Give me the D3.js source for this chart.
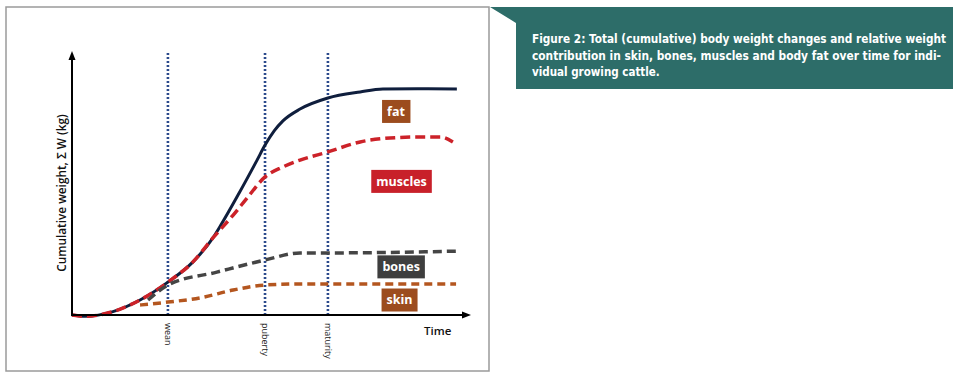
<!DOCTYPE html>
<html>
<head>
<meta charset="utf-8">
<script src="https://cdn.jsdelivr.net/npm/d3@7"></script>
<style>
  body { margin: 0; background: #fff; }
  svg { display: block; }
</style>
</head>
<body>
<div id="chart-area"></div>
<script>
// time (0..100) and cumulative weight (0..100)
const totalT   = [0, 3.3, 10.3, 17.1, 24.1, 30.4, 35.4, 37.4, 42.0, 46.5, 48.5, 50.8, 53.0, 57.3, 64.3, 72.4, 78.1, 86.7, 96.7]
const totalW   = [0, -0.5, 1.3, 5.7, 12.5, 20.2, 29.3, 34.2, 46.4, 58.9, 64.6, 70.0, 73.8, 78.3, 82.5, 84.8, 85.9, 86.0, 85.9]

const musclesT = [0, 3.3, 10.3, 17.1, 24.1, 30.4, 35.4, 40.5, 44.0, 48.5, 53.0, 57.3, 64.3, 72.4, 79.9, 87.4, 92.5, 95.7]
const musclesW = [0, -0.5, 1.3, 5.7, 12.5, 20.2, 29.3, 38.0, 44.5, 52.5, 56.3, 58.9, 62.0, 65.8, 67.3, 67.7, 67.7, 65.8]

const bonesT   = [19.1, 24.1, 36.4, 48.5, 57.3, 64.3, 97.2]
const bonesW   = [5.7, 11.4, 16.3, 20.9, 23.6, 23.6, 24.3]

const skinT    = [17.1, 24.1, 32.2, 40.5, 48.5, 57.3, 96.5]
const skinW    = [3.8, 4.9, 6.5, 9.5, 11.4, 11.8, 11.8]

const events     = ["wean", "puberty", "maturity"]
const eventTimes = [24.1, 48.5, 64.3]

const labelNames = ["fat", "muscles", "bones", "skin"]
const labelT     = [81.4, 82.8, 82.7, 82.3]
const labelW     = [77.4, 50.8, 18.3, 5.7]

const caption = [
  "Figure 2: Total (cumulative) body weight changes and relative weight",
  "contribution in skin, bones, muscles and body fat over time for indi-",
  "vidual growing cattle."
]

const W = 960, H = 379

const svg = d3.select("#chart-area")
  .append("svg")
    .attr("width", W)
    .attr("height", H)

// outer frame of the figure
svg.append("rect")
  .attr("x", 6).attr("y", 7)
  .attr("width", 483).attr("height", 364)
  .attr("fill", "none")
  .attr("stroke", "#9a9a9a")
  .attr("stroke-width", 1.5)

// scales
const x = d3.scaleLinear().domain([0, 100]).range([72, 470])
const y = d3.scaleLinear().domain([0, 100]).range([315, 52])

// event markers (dotted verticals)
events.forEach((ev, i) => {
  svg.append("line")
    .attr("x1", x(eventTimes[i])).attr("x2", x(eventTimes[i]))
    .attr("y1", y(0)).attr("y2", 53)
    .attr("stroke", "#2b4a8c")
    .attr("stroke-width", 2.6)
    .attr("stroke-dasharray", "2,2")

  svg.append("text")
    .attr("transform", `translate(${x(eventTimes[i]) - 3},${y(0) + 8}) rotate(90)`)
    .attr("font-family", "Open Sans")
    .attr("font-size", 9)
    .attr("fill", "#222")
    .text(ev)
})

// curves
const line = d3.line()
  .x(d => x(d[0]))
  .y(d => y(d[1]))
  .curve(d3.curveMonotoneX)

const series = [
  {t: totalT, w: totalW, color: "#0f1e3d", dash: null, sw: 3},
  {t: musclesT, w: musclesW, color: "#cc2229", dash: "10,5", sw: 3.5},
  {t: bonesT, w: bonesW, color: "#454545", dash: "9,5", sw: 3.5},
  {t: skinT, w: skinW, color: "#b4561f", dash: "8,5", sw: 3.5}
]

series.forEach(s => {
  svg.append("path")
    .datum(s.t.map((t, i) => [t, s.w[i]]))
    .attr("d", line)
    .attr("fill", "none")
    .attr("stroke", s.color)
    .attr("stroke-width", s.sw)
    .attr("stroke-dasharray", s.dash)
})

// axes with arrows
svg.append("line")
  .attr("x1", x(0)).attr("x2", x(0))
  .attr("y1", y(0) + 1).attr("y2", 58)
  .attr("stroke", "#000").attr("stroke-width", 2)
svg.append("path")
  .attr("d", `M${x(0) - 3.5},60 L${x(0)},51 L${x(0) + 3.5},60 Z`)
  .attr("fill", "#000")

svg.append("line")
  .attr("x1", x(0) - 1).attr("x2", 464)
  .attr("y1", y(0)).attr("y2", y(0))
  .attr("stroke", "#000").attr("stroke-width", 2)
svg.append("path")
  .attr("d", `M462,${y(0) - 3.5} L471,${y(0)} L462,${y(0) + 3.5} Z`)
  .attr("fill", "#000")

svg.append("text")
  .attr("x", 424).attr("y", 335)
  .attr("font-family", "Open Sans")
  .attr("font-weight", 600)
  .attr("font-size", 11.5)
  .attr("fill", "#111")
  .text("Time")

svg.append("text")
  .attr("transform", `translate(66,193) rotate(-90)`)
  .attr("text-anchor", "middle")
  .attr("font-family", "Open Sans")
  .attr("font-weight", 600)
  .attr("font-size", 11.8)
  .attr("fill", "#111")
  .text("Cumulative weight, \u03A3 W (kg)")

// component labels
const labelColours = d3.scaleOrdinal()
  .domain(labelNames)
  .range(["#9c4c1e", "#c8202a", "#3e3e3e", "#9c4c1e"])

labelNames.forEach((name, i) => {
  const g = svg.append("g")
    .attr("transform", `translate(${x(labelT[i])},${y(labelW[i])})`)
  const txt = g.append("text")
    .attr("text-anchor", "middle")
    .attr("dy", "0.35em")
    .attr("font-family", "Open Sans")
    .attr("font-weight", 700)
    .attr("font-size", 12.5)
    .attr("fill", "#fff")
    .text(name)
  const bb = txt.node().getBBox()
  g.insert("rect", "text")
    .attr("x", bb.x - 5).attr("y", -11.5)
    .attr("width", bb.width + 10).attr("height", 23)
    .attr("fill", labelColours(name))
})

// caption box
svg.append("path")
  .attr("d", "M490,7 L953,7 L953,89 L516,89 L516,23 Z")
  .attr("fill", "#2d6d69")

// one font size for the caption, small enough that the justified lines fit
const capW = [414, 409]
const capText = caption.map((c, i) => svg.append("text")
  .attr("x", 532)
  .attr("y", 43 + i * 16.5)
  .attr("font-family", "Liberation Sans Narrow, DejaVu Sans Condensed, sans-serif")
  .attr("font-weight", 700)
  .attr("font-size", 14)
  .attr("fill", "#fff")
  .text(c))

let fs = 14
const tooWide = () => capW.some((w, i) => capText[i].node().getComputedTextLength() > w)
while (fs > 9 && tooWide()) {
  fs -= 0.25
  capText.forEach(t => t.attr("font-size", fs))
}
capW.forEach((w, i) => capText[i]
  .attr("textLength", w)
  .attr("lengthAdjust", "spacingAndGlyphs"))
</script>
</body>
</html>
